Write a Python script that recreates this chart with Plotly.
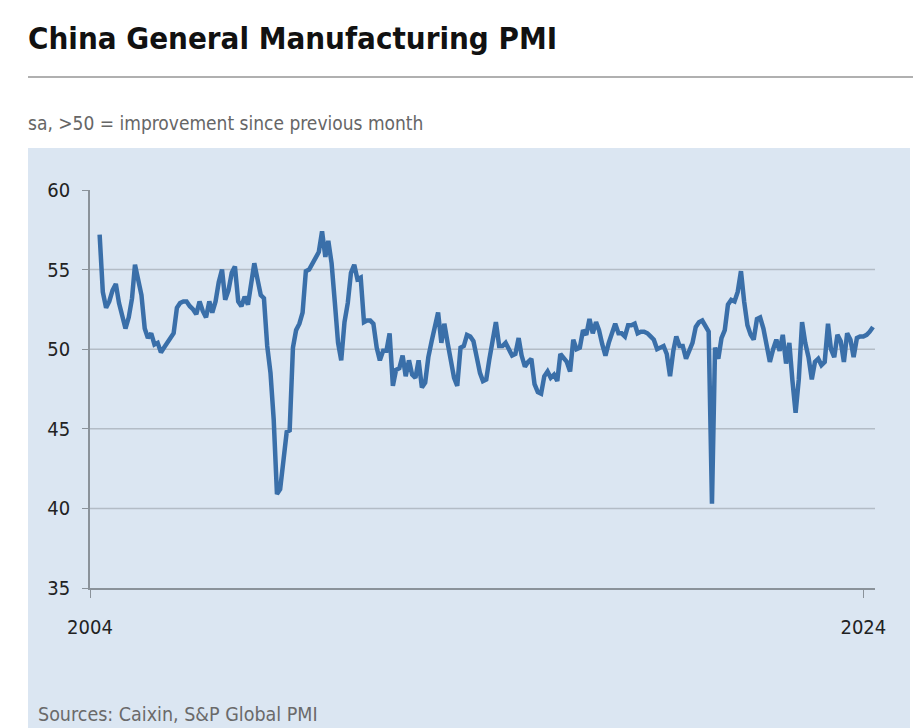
import plotly.graph_objects as go
import pandas as pd

# Monthly PMI readings, April 2004 – April 2024
pmi_2004 = [57.2, 53.6, 52.6, 53.0, 53.7, 54.1, 52.9, 52.0, 51.3]            # Apr–Dec
pmi_2005 = [52.0, 53.2, 55.3, 54.4, 53.4, 51.3, 50.7, 51.0, 50.3, 50.4, 49.8, 50.1]
pmi_2006 = [50.4, 50.8, 51.0, 52.6, 52.9, 53.0, 53.0, 52.7, 52.5, 52.2, 53.0, 52.4]
pmi_2007 = [52.0, 53.0, 52.3, 53.0, 54.2, 55.0, 53.1, 53.7, 54.8, 55.2, 53.0, 52.7]
pmi_2008 = [53.3, 52.8, 54.2, 55.4, 54.4, 53.4, 53.2, 50.2, 48.5, 45.6, 40.9, 41.2]
pmi_2009 = [43.0, 44.8, 44.9, 50.1, 51.2, 51.6, 52.3, 54.9, 55.0, 55.4, 55.7, 56.1]
pmi_2010 = [57.4, 55.8, 56.8, 55.4, 53.0, 50.4, 49.3, 51.7, 52.9, 54.8, 55.3, 54.4]
pmi_2011 = [54.5, 51.7, 51.8, 51.8, 51.6, 50.1, 49.3, 49.9, 49.9, 51.0, 47.7, 48.7]
pmi_2012 = [48.8, 49.6, 48.3, 49.3, 48.4, 48.2, 49.3, 47.6, 47.9, 49.5, 50.5, 51.5]
pmi_2013 = [52.3, 50.4, 51.6, 50.4, 49.2, 48.2, 47.7, 50.1, 50.2, 50.9, 50.8, 50.5]
pmi_2014 = [49.5, 48.5, 48.0, 48.1, 49.4, 50.7, 51.7, 50.2, 50.2, 50.4, 50.0, 49.6]
pmi_2015 = [49.7, 50.7, 49.6, 48.9, 49.2, 49.4, 47.8, 47.3, 47.2, 48.3, 48.6, 48.2]
pmi_2016 = [48.4, 48.0, 49.7, 49.4, 49.2, 48.6, 50.6, 50.0, 50.1, 51.2, 50.9, 51.9]
pmi_2017 = [51.0, 51.7, 51.2, 50.3, 49.6, 50.4, 51.1, 51.6, 51.0, 51.0, 50.8, 51.5]
pmi_2018 = [51.5, 51.6, 51.0, 51.1, 51.1, 51.0, 50.8, 50.6, 50.0, 50.1, 50.2, 49.7]
pmi_2019 = [48.3, 49.9, 50.8, 50.2, 50.2, 49.4, 49.9, 50.4, 51.4, 51.7, 51.8, 51.5]
pmi_2020 = [51.1, 40.3, 50.1, 49.4, 50.7, 51.2, 52.8, 53.1, 53.0, 53.6, 54.9, 53.0]
pmi_2021 = [51.5, 50.9, 50.6, 51.9, 52.0, 51.3, 50.3, 49.2, 50.0, 50.6, 49.9, 50.9]
pmi_2022 = [49.1, 50.4, 48.1, 46.0, 48.1, 51.7, 50.4, 49.5, 48.1, 49.2, 49.4, 49.0]
pmi_2023 = [49.2, 51.6, 50.0, 49.5, 50.9, 50.5, 49.2, 51.0, 50.6, 49.5, 50.7, 50.8]
pmi_2024 = [50.8, 50.9, 51.1, 51.4]                                          # Jan–Apr

values = (pmi_2004 + pmi_2005 + pmi_2006 + pmi_2007 + pmi_2008 + pmi_2009 + pmi_2010
          + pmi_2011 + pmi_2012 + pmi_2013 + pmi_2014 + pmi_2015 + pmi_2016 + pmi_2017
          + pmi_2018 + pmi_2019 + pmi_2020 + pmi_2021 + pmi_2022 + pmi_2023 + pmi_2024)
dates = pd.date_range("2004-04-01", periods=len(values), freq="MS")

y_ticks = [35, 40, 45, 50, 55, 60]
grid_vals = [40, 45, 50, 55]
x_ticks = ["2004-01-01", "2024-01-01"]
x_tick_labels = ["2004", "2024"]

TITLE = "China General Manufacturing PMI"
SUBTITLE = "sa, >50 = improvement since previous month"
SOURCE = "Sources: Caixin, S&P Global PMI"

FONT = "DejaVu Sans Condensed, Liberation Sans Narrow, Roboto, sans-serif"
PANEL = "#dbe6f2"
LINE = "#3a6fa9"
GRID = "#b3bcc6"
AXIS = "#8a929a"

# page offset of the plot div (body margin) is 8px; helpers map page pixels to paper coords
L, T, PW, PH = 90, 190, 785, 398


def px(x):
    return (x - L) / PW


def py(y):
    return (T + PH - y) / PH


fig = go.Figure()
fig.add_trace(go.Scatter(x=dates, y=values, mode="lines",
                         line=dict(color=LINE, width=4.5),
                         hoverinfo="skip", showlegend=False))

shapes = [
    dict(type="line", xref="paper", yref="paper", x0=px(28), x1=px(921), y0=py(77), y1=py(77),
         line=dict(color="#b0b0b0", width=2)),
    dict(type="rect", xref="paper", yref="paper", x0=px(28), x1=px(910), y0=py(730), y1=py(148),
         fillcolor=PANEL, line=dict(width=0), layer="below"),
]
for g in grid_vals:
    shapes.append(dict(type="line", xref="paper", yref="y", x0=0, x1=1, y0=g, y1=g,
                       line=dict(color=GRID, width=1.5), layer="below"))
fig.update_layout(shapes=shapes)

fig.update_layout(
    width=913, height=720,
    margin=dict(l=L - 8, r=913 - (L - 8) - PW, t=T - 8, b=720 - (T - 8) - PH),
    paper_bgcolor="white",
    plot_bgcolor=PANEL,
    font=dict(family=FONT, color="#333333"),
    xaxis=dict(type="date", range=["2004-01-01", "2024-04-20"],
               tickvals=x_ticks, ticktext=x_tick_labels,
               showgrid=False, zeroline=False,
               showline=True, linecolor=AXIS, linewidth=1.5,
               ticks="outside", ticklen=8, tickcolor=AXIS, tickwidth=1,
               tickfont=dict(size=20, color="#222222"), ticklabelstandoff=12),
    yaxis=dict(range=[35, 60], tickvals=y_ticks,
               showgrid=False, zeroline=False,
               showline=True, linecolor=AXIS, linewidth=1.5,
               ticks="outside", ticklen=6, tickcolor=AXIS, tickwidth=1,
               tickfont=dict(size=20, color="#222222"), ticklabelstandoff=8),
)

fig.add_annotation(text=f"<b>{TITLE}</b>", xref="paper", yref="paper",
                   x=px(26), y=py(38), xanchor="left", yanchor="middle",
                   showarrow=False, font=dict(size=31, color="#111111", family=FONT))
fig.add_annotation(text=SUBTITLE, xref="paper", yref="paper",
                   x=px(26), y=py(123), xanchor="left", yanchor="middle",
                   showarrow=False, font=dict(size=19, color="#666666", family=FONT))
fig.add_annotation(text=SOURCE, xref="paper", yref="paper",
                   x=px(36), y=py(714), xanchor="left", yanchor="middle",
                   showarrow=False, font=dict(size=19.5, color="#6a6a6a", family=FONT))

fig.write_html("out.html")
